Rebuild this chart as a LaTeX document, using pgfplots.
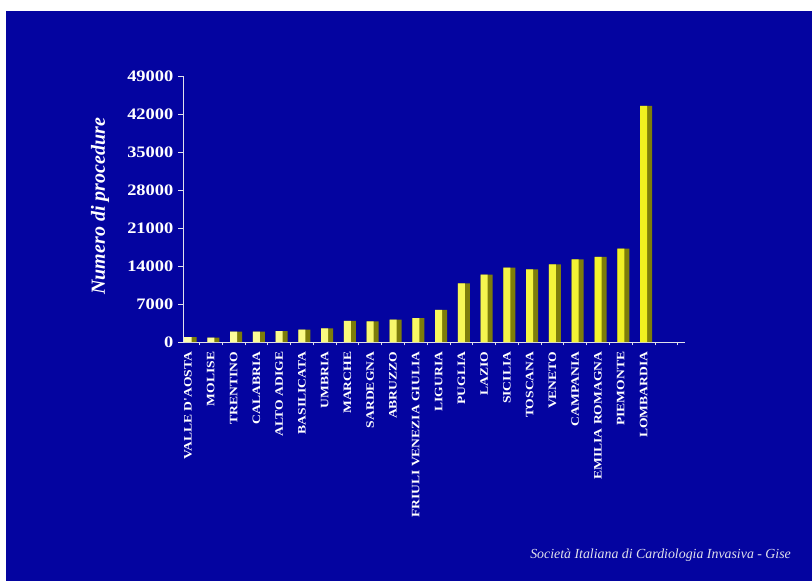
\documentclass[border=0pt]{standalone}
\usepackage{fontspec}
\setmainfont{Liberation Serif}
\newfontfamily\labfont{Liberation Serif}[FakeStretch=1.2]
\newfontfamily\numfont{Liberation Serif}[FakeStretch=1.15]
\usepackage{pgfplots}
\usepackage{pgfplotstable}
\pgfplotsset{compat=1.18}
\definecolor{bgblue}{RGB}{4,4,160}
\definecolor{baryel}{RGB}{240,240,30}
\definecolor{barlight}{RGB}{255,255,170}
\definecolor{barside}{RGB}{125,125,10}
\definecolor{axgray}{RGB}{225,225,235}
\pgfplotstableread{
x y
0 900
1 800
2 1900
3 1900
4 2000
5 2300
6 2500
7 3900
8 3800
9 4100
10 4400
11 5900
12 10800
13 12400
14 13700
15 13400
16 14300
17 15200
18 15700
19 17200
20 43500
}\datatable
\begin{document}
\begin{tikzpicture}
\fill[white] (0,0) rectangle (609pt,435.75pt);
\fill[bgblue] (4.5pt,0) rectangle (609pt,427.5pt);
\begin{axis}[
  at={(137.25pt,179.25pt)}, anchor=south west,
  scale only axis, width=376.5pt, height=199.5pt,
  xmin=-0.22, xmax=21.82, ymin=0, ymax=49000,
  axis x line*=bottom, axis y line*=left,
  axis line style={axgray, line width=0.6pt},
  ytick={0,7000,14000,21000,28000,35000,42000,49000},
  scaled y ticks=false,
  /pgf/number format/assume math mode=true,
  y tick label style={/pgf/number format/1000 sep={}, font=\numfont\fontsize{12}{13}\selectfont\bfseries, text=white},
  xtick={0,...,20},
  xticklabels={VALLE D'AOSTA, MOLISE, TRENTINO, CALABRIA, ALTO ADIGE, BASILICATA, UMBRIA, MARCHE, SARDEGNA, ABRUZZO, FRIULI VENEZIA GIULIA, LIGURIA, PUGLIA, LAZIO, SICILIA, TOSCANA, VENETO, CAMPANIA, EMILIA ROMAGNA, PIEMONTE, LOMBARDIA},
  x tick label style={rotate=90, anchor=east, font=\labfont\fontsize{8.5}{9}\selectfont\bfseries, text=white},
  minor xtick={0.5,1.5,...,21.5},
  major x tick style={draw=none},
  tick align=outside,
  major tick length=3.75pt,
  minor tick length=2.5pt,
  tick style={axgray, line width=0.6pt},
  every axis y label/.style={at={(axis description cs:-0.165,0.51)}, rotate=90, anchor=center, font=\fontsize{15}{17}\selectfont\bfseries\itshape, text=white},
  ylabel={Numero di procedure},
  clip=false,
]
\addplot[ybar, bar width=9pt, bar shift=1.875pt, fill=barside, draw=none] table[x=x,y=y] {\datatable};
\addplot[ybar, bar width=5.25pt, bar shift=0pt, draw=none, left color=barlight, right color=baryel] table[x=x,y=y] {\datatable};
\end{axis}
\node[anchor=west, inner sep=0pt, text=axgray, font=\fontsize{10.4}{12}\selectfont\itshape] at (397.5pt,19.5pt) {Società Italiana di Cardiologia Invasiva - Gise};
\end{tikzpicture}
\end{document}
